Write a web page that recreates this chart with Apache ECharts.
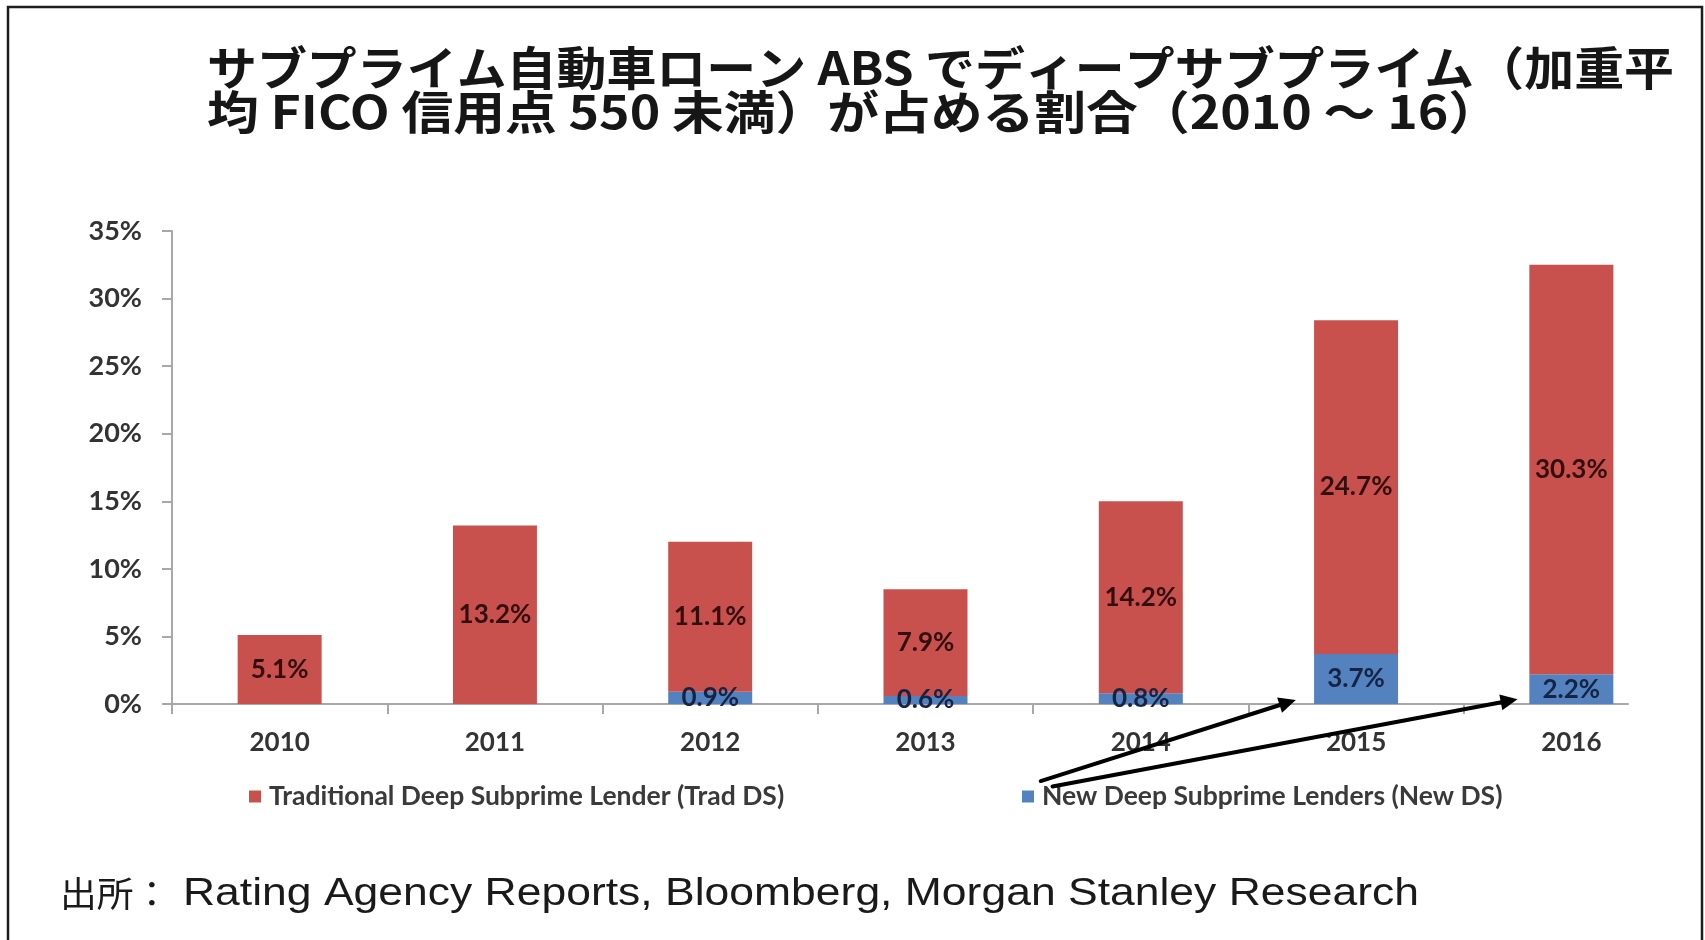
<!DOCTYPE html>
<html><head><meta charset="utf-8">
<script src="https://cdn.jsdelivr.net/npm/echarts@6/dist/echarts.min.js"></script>
<style>html,body{margin:0;padding:0;background:#fff}#c{width:1705px;height:940px}</style>
</head><body><div id="c"></div>
<script>
// ---- data ----
const categories = ['2010', '2011', '2012', '2013', '2014', '2015', '2016'];
const tradDS = [5.1, 13.2, 11.1, 7.9, 14.2, 24.7, 30.3];
const newDS = [0, 0, 0.9, 0.6, 0.8, 3.7, 2.2];
const yMin = 0, yMax = 35, yStep = 5;
const seriesNames = ['Traditional Deep Subprime Lender (Trad DS)', 'New Deep Subprime Lenders (New DS)'];
const titleLines = ['サブプライム自動車ローン ABS でディープサブプライム（加重平', '均 FICO 信用点 550 未満）が占める割合（2010 ～ 16）'];
const sourceLabel = '出所：';
const sourceText = 'Rating Agency Reports, Bloomberg, Morgan Stanley Research';
// annotation arrows: [category position, value %]
const arrowStarts = [[3.535, -5.7], [3.59, -6.1]];
const arrowEnds = [[4.72, 0.3], [5.75, 0.35]];

// ---- styles ----
const RED = '#c8504d', BLUE = '#5482be';
const LAT = 'Lato';
const gridL = 172, gridT = 231, gridB = 236, gridRightEdge = 1679, axisEnd = 1628;

const chart = echarts.init(document.getElementById('c'), null, {renderer: 'canvas'});
const bandW = (gridRightEdge - gridL) / categories.length;
const axisMax = (axisEnd - gridL) / bandW;

const labelFmt = p => (p.value > 0 ? p.value.toFixed(1) + '%' : '');

chart.setOption({
  animation: false,
  backgroundColor: '#fff',
  grid: [
    {left: gridL, top: gridT, bottom: gridB, right: 1705 - gridRightEdge},
    {left: gridL, top: gridT, bottom: gridB, width: axisEnd - gridL}
  ],
  xAxis: [
    {type: 'category', data: categories, gridIndex: 0,
     axisLine: {show: false}, axisTick: {show: false},
     axisLabel: {fontFamily: LAT, fontWeight: 'bold', fontSize: 26, color: '#333', margin: 26}},
    {type: 'value', gridIndex: 1, min: 0, max: axisMax, interval: 1,
     axisLine: {show: true, lineStyle: {color: '#a8a8a8', width: 2}},
     axisTick: {show: true, length: 10, lineStyle: {color: '#a8a8a8', width: 2},
                customValues: categories.map((c, i) => i)},
     axisLabel: {show: false}, splitLine: {show: false}}
  ],
  yAxis: [
    {type: 'value', gridIndex: 0, min: yMin, max: yMax, interval: yStep,
     axisLine: {show: true, lineStyle: {color: '#a8a8a8', width: 2}},
     axisTick: {show: true, length: 10, lineStyle: {color: '#a8a8a8', width: 2}},
     splitLine: {show: false},
     axisLabel: {formatter: '{value}%', fontFamily: LAT, fontWeight: 'bold', fontSize: 27, color: '#333', margin: 30}},
    {type: 'value', gridIndex: 1, min: yMin, max: yMax, show: false}
  ],
  legend: [
    {data: [seriesNames[0]], left: 249, top: 783, padding: 0, itemWidth: 12, itemHeight: 12,
     icon: 'rect', textStyle: {fontFamily: LAT, fontWeight: 'bold', fontSize: 26.5, color: '#3a3a3a', padding: [0, 0, 0, 3]}},
    {data: [seriesNames[1]], left: 1022, top: 783, padding: 0, itemWidth: 12, itemHeight: 12,
     icon: 'rect', textStyle: {fontFamily: LAT, fontWeight: 'bold', fontSize: 26.5, color: '#3a3a3a', padding: [0, 0, 0, 3]}}
  ],
  series: [
    {name: seriesNames[1], type: 'bar', stack: 'a', data: newDS, barWidth: 84,
     itemStyle: {color: BLUE},
     label: {show: true, position: 'inside', formatter: labelFmt, fontFamily: LAT, fontWeight: 'bold', fontSize: 26, color: '#142445'}},
    {name: seriesNames[0], type: 'bar', stack: 'a', data: tradDS, barWidth: 84,
     itemStyle: {color: RED},
     label: {show: true, position: 'inside', formatter: labelFmt, fontFamily: LAT, fontWeight: 'bold', fontSize: 26, color: '#330e0e'}}
  ]
});

// ---- decorations ----
function measure(text, font) {
  const cv = document.createElement('canvas').getContext('2d');
  cv.font = font;
  return cv.measureText(text).width;
}
const titleFont = 'bold 46px "Noto Sans CJK JP"';
const titleScale1 = (1674 - 207) / measure(titleLines[0], titleFont);
const titleScale2 = (1500 - 207) / measure(titleLines[1], titleFont);
const srcFont = '38px "Liberation Sans"';
const srcScale = (1419 - 183) / measure(sourceText, srcFont);

function px(ci, v) {
  const p0 = chart.convertToPixel({xAxisIndex: 0}, categories[0]);
  const p1 = chart.convertToPixel({xAxisIndex: 0}, categories[1]);
  return [p0 + ci * (p1 - p0), chart.convertToPixel({yAxisIndex: 0}, v)];
}

const g = [
  {type: 'rect', shape: {x: 8, y: 7, width: 1694, height: 1000}, silent: true,
   style: {fill: null, stroke: '#1d1d1d', lineWidth: 2.5}},
  {type: 'text', x: 207, y: 46, scaleX: titleScale1, scaleY: 1,
   style: {text: titleLines[0], fontSize: 46, fontWeight: 'bold', fontFamily: 'Noto Sans CJK JP',
           lineHeight: 44, fill: '#161616', verticalAlign: 'top'}},
  {type: 'text', x: 207, y: 90, scaleX: titleScale2, scaleY: 1,
   style: {text: titleLines[1], fontSize: 46, fontWeight: 'bold', fontFamily: 'Noto Sans CJK JP',
           lineHeight: 44, fill: '#161616', verticalAlign: 'top'}},
  {type: 'text', x: 60, y: 894, scaleX: 1.05, scaleY: 1,
   style: {text: sourceLabel, fontSize: 35, fontFamily: 'Noto Sans CJK JP', fill: '#1a1a1a', verticalAlign: 'middle'}},
  {type: 'text', x: 183, y: 895, scaleX: srcScale, scaleY: 1,
   style: {text: sourceText, fontSize: 38, fontFamily: 'Liberation Sans', fill: '#1a1a1a', verticalAlign: 'middle'}}
];
arrowStarts.forEach((s, i) => {
  const a = px(s[0], s[1]), b = px(arrowEnds[i][0], arrowEnds[i][1]);
  const dx = b[0] - a[0], dy = b[1] - a[1], L = Math.hypot(dx, dy);
  const ux = dx / L, uy = dy / L, hl = 17, hw = 8;
  const bx = b[0] - ux * hl, by = b[1] - uy * hl;
  g.push({type: 'line', shape: {x1: a[0], y1: a[1], x2: bx + ux * 2, y2: by + uy * 2},
          style: {stroke: '#000', lineWidth: 4, lineCap: 'round'}, z: 10});
  g.push({type: 'polygon', shape: {points: [[b[0], b[1]], [bx - uy * hw, by + ux * hw], [bx + uy * hw, by - ux * hw]]},
          style: {fill: '#000'}, z: 10});
});
chart.setOption({graphic: g});
</script>
</body></html>
